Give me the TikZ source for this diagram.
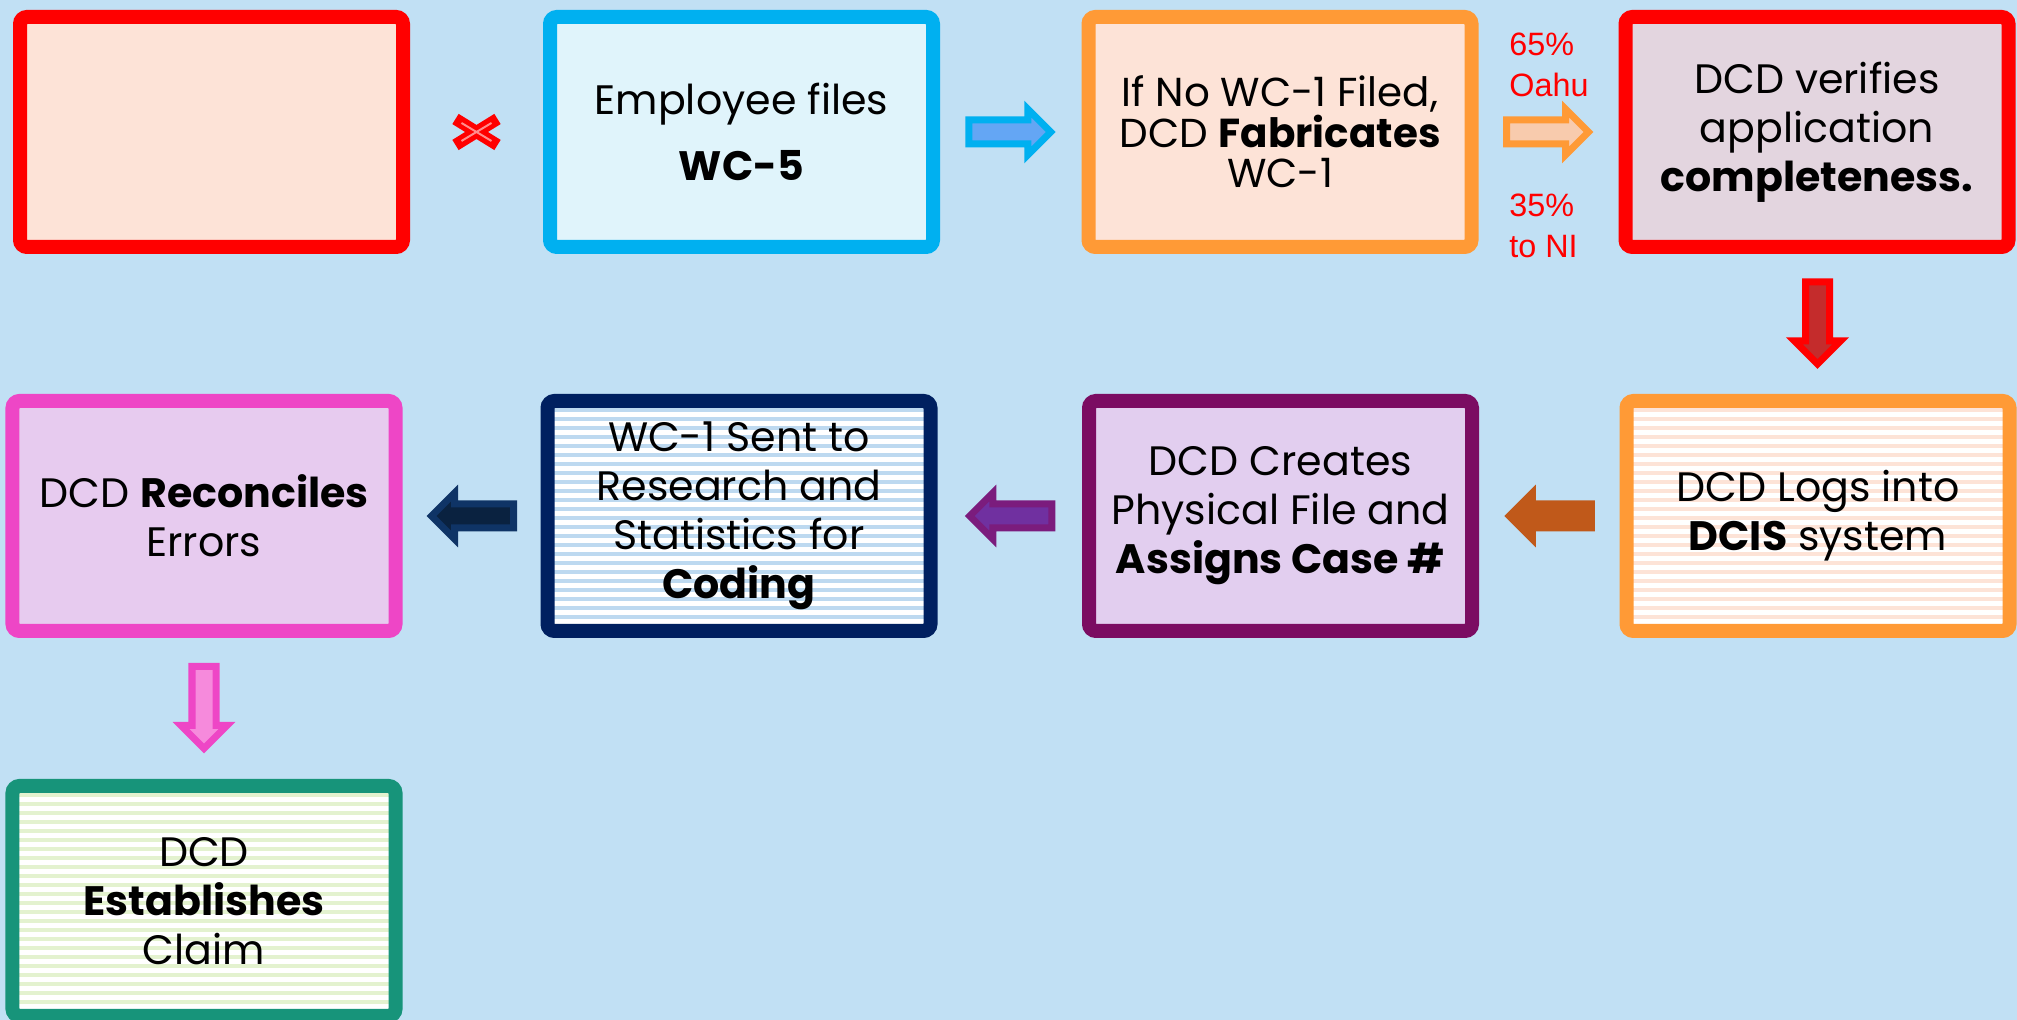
\documentclass[tikz,border=0pt]{standalone}
\usepackage{fontspec}
\setmainfont{Poppins}
\newfontfamily\notefont{Liberation Sans}
\usepackage{xcolor}
\usetikzlibrary{shapes.arrows,calc}
\definecolor{bgblue}{HTML}{C1E0F4}
\definecolor{peach}{HTML}{FDE3D7}
\definecolor{cyanline}{HTML}{00B0F0}
\definecolor{cyanfill}{HTML}{E0F4FB}
\definecolor{orangeline}{HTML}{FF9A36}
\definecolor{mauvefill}{HTML}{E3D5DF}
\definecolor{plumline}{HTML}{7B0C62}
\definecolor{lavender}{HTML}{E2CEEF}
\definecolor{navyline}{HTML}{002060}
\definecolor{navystripe}{HTML}{BDD9F0}
\definecolor{pinkline}{HTML}{EE46C6}
\definecolor{pinkfill}{HTML}{E7CBEF}
\definecolor{tealline}{HTML}{17947A}
\definecolor{greenstripe}{HTML}{E3F2CF}

\begin{document}
\begin{tikzpicture}[
  box/.style={rectangle, rounded corners=2pt, line width=0.14cm, minimum width=3.83cm,
    minimum height=2.30cm, inner sep=0pt, align=center, font=\fontsize{11.7}{13.9}\selectfont},
  stripes/.style={fill=white, path picture={
    \foreach \k in {0,...,28}
      \draw[#1, line width=0.045cm] ([yshift=-\k*0.9mm]path picture bounding box.north west)
        -- ([yshift=-\k*0.9mm]path picture bounding box.north east);}},
  blk/.style={single arrow, single arrow head extend=0.11cm, minimum height=0.82cm,
    inner sep=0pt, inner ysep=0.085cm, line width=0.07cm},
  note/.style={text=red, align=left, anchor=west, font=\notefont\fontsize{9.2}{11.7}\selectfont}
]
   \fill[bgblue] (0,0) rectangle (20.17,10.20);
   \useasboundingbox (0,0) rectangle (20.17,10.20);

   % top row
   \node[box, draw=red, fill=peach] (b1) at (2.115,8.88) {};
   \node[box, draw=cyanline, fill=cyanfill] (b2) at (7.415,8.88) {Employee files\\[5pt]\textbf{WC-5}};
   \node[box, draw=orangeline, fill=peach, font=\fontsize{11.5}{11.5}\selectfont] (b3) at (12.80,8.88)
     {If No WC-1 Filed,\\DCD \textbf{Fabricates}\\WC-1};
   \node[box, draw=red, fill=mauvefill] (b4) at (18.17,8.88) {DCD verifies\\application\\\textbf{completeness.}};

   % middle row
   \node[box, draw=orangeline, stripes=peach] (b5) at (18.18,5.04) {DCD Logs into\\\textbf{DCIS} system};
   \node[box, draw=plumline, fill=lavender] (b6) at (12.805,5.04) {DCD Creates\\Physical File and\\\textbf{Assigns Case \#}};
   \node[box, draw=navyline, stripes=navystripe] (b7) at (7.39,5.04)
     {WC-1 Sent to\\Research and\\Statistics for\\\textbf{Coding}};
   \node[box, draw=pinkline, fill=pinkfill] (b8) at (2.04,5.04) {DCD \textbf{Reconciles}\\Errors};

   % bottom row
   \node[box, draw=tealline, stripes=greenstripe] (b9) at (2.04,1.19) {DCD\\\textbf{Establishes}\\Claim};

   % no link between b1 and b2
   \coordinate (nx) at ($(b1.east)!0.5!(b2.west)$);
   \draw[red, line width=0.12cm] ($(nx)+(-0.21,0.13)$) -- ($(nx)+(0.21,-0.13)$);
   \draw[red, line width=0.12cm] ($(nx)+(-0.21,-0.13)$) -- ($(nx)+(0.21,0.13)$);
   \draw[red!45!white, line width=0.02cm] ($(nx)+(-0.15,0.09)$) -- ($(nx)+(0.15,-0.09)$);
   \draw[red!45!white, line width=0.02cm] ($(nx)+(-0.15,-0.09)$) -- ($(nx)+(0.15,0.09)$);

   % block arrows
   \node[blk, draw=cyanline, fill={rgb,255:red,100;green,166;blue,244}, xshift=-0.07cm] (a23) at ($(b2.east)!0.5!(b3.west)$) {};
   \node[blk, draw=orangeline, fill={rgb,255:red,248;green,203;blue,173}, xshift=-0.07cm] (a34) at ($(b3.east)!0.5!(b4.west)$) {};
   \node[blk, draw=red, fill={rgb,255:red,196;green,44;blue,44}, rotate=-90, xshift=-0.07cm] (a45) at ($(b4.south)!0.5!(b5.north)$) {};
   \node[blk, draw={rgb,255:red,192;green,89;blue,26}, fill={rgb,255:red,192;green,89;blue,26}, rotate=180, xshift=-0.07cm] (a56) at ($(b5.west)!0.5!(b6.east)$) {};
   \node[blk, draw={rgb,255:red,123;green,28;blue,125}, fill={rgb,255:red,112;green,48;blue,160}, rotate=180, xshift=-0.07cm] (a67) at ($(b6.west)!0.5!(b7.east)$) {};
   \node[blk, draw={rgb,255:red,15;green,52;blue,102}, fill={rgb,255:red,10;green,34;blue,64}, rotate=180, xshift=-0.07cm] (a78) at ($(b7.west)!0.5!(b8.east)$) {};
   \node[blk, draw=pinkline, fill={rgb,255:red,246;green,138;blue,220}, rotate=-90, xshift=-0.07cm] (a89) at ($(b8.south)!0.5!(b9.north)$) {};

   \node[note] (oahu) at (14.97,9.55) {65\%\\Oahu};
   \node[note] (ni) at (14.97,7.94) {35\%\\to NI};
   %\node[below] at (1,0) {$1$};
\end{tikzpicture}
\end{document}
